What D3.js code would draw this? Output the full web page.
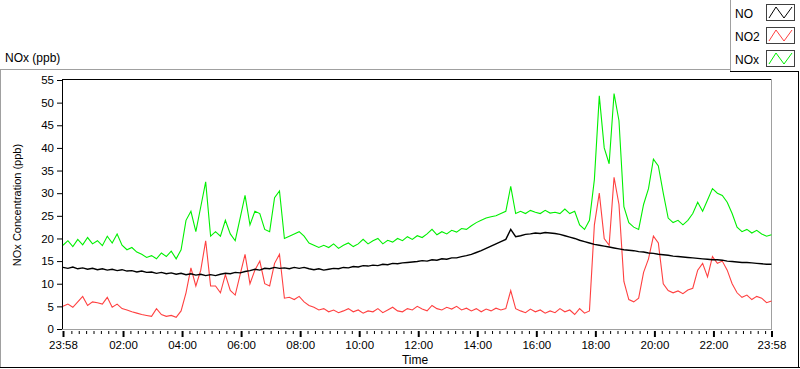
<!DOCTYPE html>
<html lang="en">
<head>
<meta charset="UTF-8">
<title>NOx (ppb)</title>
<script src="https://cdn.jsdelivr.net/npm/d3@7"></script>
<style>
  body { margin: 0; background: #fff; }
  svg { display: block; font-family: "Liberation Sans", Arial, sans-serif; font-size: 12px; }
</style>
</head>
<body>
<svg width="800" height="369"></svg>
<script>
    // one reading every 10 minutes, starting 23:58
    var startTime = new Date(2021, 0, 1, 23, 58);
    var stepMinutes = 10;

    var seriesNames = ["NO", "NO2", "NOx"];
    var seriesColors = ["#000000", "#ff4040", "#00f000"];

    var noValues = [
        13.6, 13.4, 13.7, 13.3, 13.5, 13.2, 13.4, 13.1, 13.3, 13.0,
        13.2, 12.9, 13.1, 12.8, 12.9, 12.6, 12.8, 12.5, 12.6, 12.3,
        12.5, 12.2, 12.4, 12.1, 12.3, 12.0, 12.2, 11.9, 12.1, 11.8,
        12.0, 11.8, 12.1, 12.3, 12.2, 12.5, 12.4, 12.7, 12.9, 13.2,
        13.0, 13.4, 13.3, 13.6, 13.4, 13.5, 13.3, 13.6, 13.4, 13.6,
        13.3, 13.1, 13.3, 13.0, 13.2, 13.4, 13.3, 13.6, 13.5, 13.8,
        13.7, 14.0, 13.9, 14.1, 14.0, 14.3, 14.2, 14.5, 14.4, 14.6,
        14.7, 14.8, 14.9, 15.1, 15.0, 15.3, 15.2, 15.5, 15.4, 15.7,
        15.7, 16.0, 16.2, 16.5, 16.9, 17.3, 17.8, 18.3, 18.8, 19.3,
        19.8, 22.0, 20.4, 20.6, 20.9, 21.0, 21.2, 21.1, 21.3, 21.2,
        21.1, 20.9, 20.6, 20.3, 20.0, 19.6, 19.3, 19.0, 18.7, 18.5,
        18.3, 18.1, 17.9, 17.7, 17.5, 17.4, 17.3, 17.1, 17.0, 16.8,
        16.7, 16.5, 16.4, 16.3, 16.1, 16.0, 15.9, 15.8, 15.7, 15.6,
        15.5, 15.4, 15.3, 15.3, 15.2, 15.0, 14.9, 14.8, 14.7, 14.7,
        14.6, 14.5, 14.4, 14.3, 14.3
    ];

    var no2Values = [
        5.0, 5.5, 4.8, 6.0, 7.2, 5.2, 6.0, 5.8, 5.5, 7.0,
        4.8, 5.5, 4.5, 4.2, 3.8, 3.5, 3.2, 3.0, 2.8, 4.5,
        3.2, 2.8, 3.0, 2.6, 4.0, 8.0, 13.5, 9.5, 13.0, 19.5,
        9.5, 9.5, 8.0, 12.0, 8.5, 7.5, 12.0, 16.5, 10.0, 13.0,
        15.0, 10.0, 9.5, 14.5, 16.5, 6.8, 7.0, 6.5, 7.2, 6.0,
        5.2, 4.8, 4.2, 4.5, 3.8, 4.2, 3.6, 4.0, 4.5, 3.8,
        4.2, 3.5, 4.0, 3.8, 4.5, 3.6, 4.2, 4.8, 4.0, 3.8,
        4.5, 4.2, 5.0, 4.4, 4.0, 5.2, 4.5, 4.2, 4.8, 4.4,
        5.0, 4.2, 4.6, 4.0, 4.5, 3.8, 4.4, 4.0, 4.6, 4.2,
        4.5, 8.5, 4.5, 4.0, 3.6, 4.4, 3.8, 4.2, 3.5, 4.0,
        3.6, 4.5, 3.8, 4.2, 3.2, 4.5, 3.5, 4.0, 23.0, 30.0,
        20.0, 18.5, 33.5, 27.5, 10.5, 6.5, 6.0, 6.8, 12.5, 15.5,
        20.5, 19.0, 10.0, 8.5, 8.0, 8.4, 7.8, 8.6, 9.0, 13.0,
        14.5, 11.5, 16.0, 14.5, 15.0, 13.0, 10.0, 8.0, 7.0, 7.5,
        6.5, 7.2, 6.8, 5.8, 6.2
    ];

    var noxValues = [
        18.5, 19.5, 18.2, 19.8, 18.6, 20.2, 18.8, 19.5, 18.4, 20.5,
        19.0, 21.0, 18.5, 17.5, 18.0, 17.0, 16.5, 15.8, 16.2, 15.5,
        16.8, 16.0, 17.2, 15.5, 17.5, 24.0, 26.0, 21.5, 27.0, 32.5,
        20.5, 21.5, 20.5, 24.0, 21.0, 19.5, 24.5, 29.5, 23.0, 26.0,
        25.5, 22.0, 21.5, 29.0, 30.5, 20.0, 20.5, 21.0, 21.5, 20.5,
        19.0, 18.5, 18.0, 18.5, 18.0, 18.8, 17.8, 18.5, 19.0, 18.2,
        18.8, 19.8, 18.8, 19.5, 20.0, 18.8, 19.6, 19.2, 20.0, 19.5,
        20.4, 19.8, 20.6, 20.2, 21.0, 22.0, 20.8, 21.5, 21.0, 21.8,
        21.4, 22.2, 22.0, 22.8, 23.5, 24.0, 24.5, 24.8, 25.0, 25.5,
        26.0, 31.5, 25.5, 26.0, 25.5, 26.2, 25.8, 25.5, 26.2, 25.6,
        25.8, 25.5, 26.5, 25.5, 26.0, 23.0, 22.0, 24.0, 33.0, 51.5,
        40.0, 36.5, 52.0, 46.0, 27.0, 23.5, 22.5, 22.0, 27.5, 31.0,
        37.5, 36.0, 30.0, 24.5, 23.5, 24.0, 23.0, 24.0, 25.5, 28.0,
        26.0, 28.5, 31.0, 30.0, 29.5, 28.0, 25.5, 22.5, 21.5, 22.0,
        21.2, 21.8, 21.0, 20.5, 20.8
    ];

    var yTicks = [0, 5, 10, 15, 20, 25, 30, 35, 40, 45, 50, 55];
    var xMajorHours = [2, 4, 6, 8, 10, 12, 14, 16, 18, 20, 22];

    var svg = d3.select("svg");
    var endTime = d3.timeHour.offset(startTime, 24);
    var times = noValues.map(function (d, i) {
        return d3.timeMinute.offset(startTime, i * stepMinutes);
    });

    var plotLeft = 63, plotRight = 771.5, plotTop = 80, plotBottom = 329;

    var x = d3.scaleTime().domain([startTime, endTime]).range([plotLeft, plotRight]);
    var y = d3.scaleLinear().domain([0, 55]).range([plotBottom, plotTop]);

    function hline(x1, x2, yy, color) {
        svg.append("line").attr("x1", x1).attr("x2", x2).attr("y1", yy).attr("y2", yy)
            .attr("stroke", color).attr("shape-rendering", "crispEdges");
    }
    function vline(xx, y1, y2, color) {
        svg.append("line").attr("x1", xx).attr("x2", xx).attr("y1", y1).attr("y2", y2)
            .attr("stroke", color).attr("shape-rendering", "crispEdges");
    }

    // outer frame
    hline(0, 730, 69.5, "#a0a0a0");
    vline(0.5, 69, 368, "#a0a0a0");
    hline(0, 800, 367.5, "#000");
    vline(798.5, 72, 368, "#000");

    svg.append("text").attr("x", 5).attr("y", 62).attr("fill", "#000").text("NOx (ppb)");

    // plot area frame
    hline(62, 772, 79.5, "#000");
    vline(62.5, 79, 330, "#000");
    hline(62, 772, 329.5, "#a0a0a0");
    vline(771.5, 79, 330, "#a0a0a0");

    // y axis
    var yAxis = svg.append("g")
        .attr("transform", "translate(62,0)")
        .call(d3.axisLeft(y).tickValues(yTicks).tickSize(5).tickPadding(3));
    yAxis.select(".domain").remove();
    yAxis.selectAll("text").style("font-family", "Liberation Sans, Arial, sans-serif").style("font-size", "11.5px");

    // x axis, major and minor ticks
    var majorTicks = [startTime].concat(xMajorHours.map(function (h) {
        return d3.timeHour.offset(d3.timeDay.ceil(startTime), h);
    })).concat([endTime]);
    var minorTicks = d3.timeMinute.every(15).range(startTime, endTime).filter(function (t) {
        var m = t.getMinutes();
        var fromEnds = Math.min(Math.abs(t - startTime), Math.abs(endTime - t)) / 60000;
        return fromEnds > 5 && !(m === 0 && t.getHours() % 2 === 0);
    });

    var fmt = d3.timeFormat("%H:%M");
    var xMinor = svg.append("g")
        .attr("transform", "translate(0,331)")
        .call(d3.axisBottom(x).tickValues(minorTicks).tickSize(3).tickFormat(""));
    xMinor.select(".domain").remove();

    var xAxis = svg.append("g")
        .attr("transform", "translate(0,331)")
        .call(d3.axisBottom(x).tickValues(majorTicks).tickSize(6).tickPadding(4).tickFormat(fmt));
    xAxis.select(".domain").remove();
    xAxis.selectAll(".tick line").attr("stroke-width", 2);
    xAxis.selectAll("text").style("font-family", "Liberation Sans, Arial, sans-serif").style("font-size", "11.5px");

    svg.append("text").attr("x", 415).attr("y", 364).attr("text-anchor", "middle").text("Time");
    svg.append("text")
        .attr("transform", "translate(21,205) rotate(-90)")
        .attr("text-anchor", "middle")
        .style("font-size", "11px")
        .text("NOx Concentration (ppb)");

    // lines
    var line = d3.line()
        .x(function (d, i) { return x(times[i]); })
        .y(function (d) { return y(d); });

    var seriesValues = [noxValues, no2Values, noValues];
    var drawColors = [seriesColors[2], seriesColors[1], seriesColors[0]];
    var drawWidths = [1.1, 1.1, 1.4];
    svg.append("g").selectAll("path")
        .data(seriesValues)
        .enter().append("path")
        .attr("d", line)
        .attr("fill", "none")
        .attr("stroke", function (d, i) { return drawColors[i]; })
        .attr("stroke-width", function (d, i) { return drawWidths[i]; });

    // legend
    vline(730.5, 0, 72, "#a0a0a0");
    hline(730, 799, 71.5, "#000");
    var legend = svg.append("g").selectAll("g")
        .data(seriesNames)
        .enter().append("g")
        .attr("transform", function (d, i) { return "translate(0," + (i * 23) + ")"; });
    legend.append("text").attr("x", 735).attr("y", 18).text(function (d) { return d; });
    legend.append("rect")
        .attr("x", 766.5).attr("y", 4.5).attr("width", 28).attr("height", 16)
        .attr("fill", "#fff").attr("stroke", "#404040").attr("shape-rendering", "crispEdges");
    legend.append("polyline")
        .attr("points", "769,18 776,7 784,18 792,7")
        .attr("fill", "none")
        .attr("stroke", function (d, i) { return seriesColors[i]; });
</script>
</body>
</html>
